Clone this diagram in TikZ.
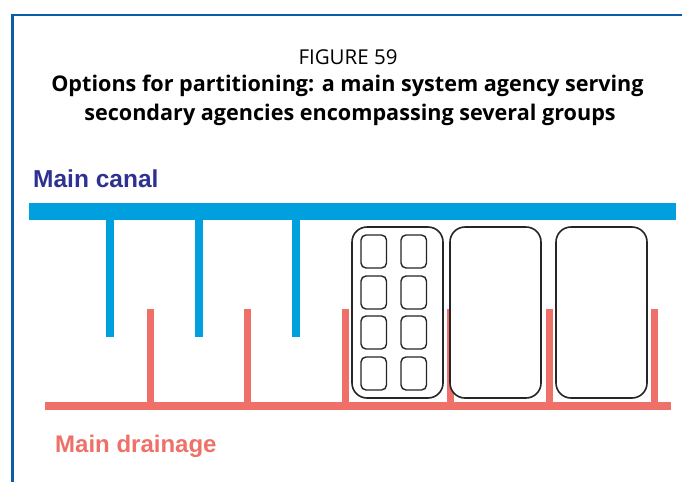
\documentclass[tikz,border=0pt]{standalone}
\usepackage{fontspec}
\setmainfont{Liberation Sans}
\newfontfamily\titlefont{Open Sans}
\definecolor{canal}{RGB}{0,160,223}
\definecolor{drain}{RGB}{238,112,105}
\definecolor{canaltext}{RGB}{46,49,146}
\definecolor{frame}{RGB}{11,93,168}
\tikzset{
  canalbar/.style={fill=canal, draw=none},
  drainbar/.style={fill=drain, draw=none},
  agency/.style={draw=black!85, line width=1.6pt, fill=white, rounded corners=15pt},
  group/.style={draw=black!85, line width=1.4pt, fill=white, rounded corners=5pt},
  lbl/.style={inner sep=0pt, anchor=base west, font=\bfseries}
}
\begin{document}
\begin{tikzpicture}[x=1pt,y=-1pt]
\useasboundingbox (0,0) rectangle (682,482);
% frame
\draw[frame, line width=2.2pt] (12.5,482) -- (12.5,15) -- (682,15);
% title
\node[inner sep=0pt, anchor=base, font=\titlefont\fontsize{20.5}{22}\selectfont] (fig) at (348,64) {FIGURE 59};
\node[inner sep=0pt, anchor=base, font=\titlefont\bfseries\fontsize{21.6}{24}\selectfont] (t1) at (347.5,91) {Options for partitioning: a main system agency serving};
\node[inner sep=0pt, anchor=base, font=\titlefont\bfseries\fontsize{21.6}{24}\selectfont] (t2) at (350,120) {secondary agencies encompassing several groups};
% labels
\node[lbl, text=canaltext, font=\bfseries\fontsize{24.5}{28}\selectfont] (mc) at (33,187) {Main canal};
\node[lbl, text=drain, font=\bfseries\fontsize{24}{28}\selectfont] (md) at (55,452) {Main drainage};
% main canal and laterals
\fill[canalbar] (29,203) rectangle (676,220);
\foreach \x in {106,195,292} \fill[canalbar] (\x,220) rectangle (\x+8,337);
% main drainage and drains
\fill[drainbar] (45,402) rectangle (671,410);
\foreach \x in {147,244,342,447,546,651} \fill[drainbar] (\x,309) rectangle (\x+7,402.5);
% secondary agencies
\draw[agency] (352,227) rectangle (443,398);
\draw[agency] (450,227) rectangle (541,398);
\draw[agency] (556,227) rectangle (647,398);
% groups
\foreach \x in {361,401}
  \foreach \y/\yy in {235/268,276/309,316/349,357/390}
    \draw[group] (\x,\y) rectangle (\x+25.5,\yy);
\end{tikzpicture}
\end{document}
